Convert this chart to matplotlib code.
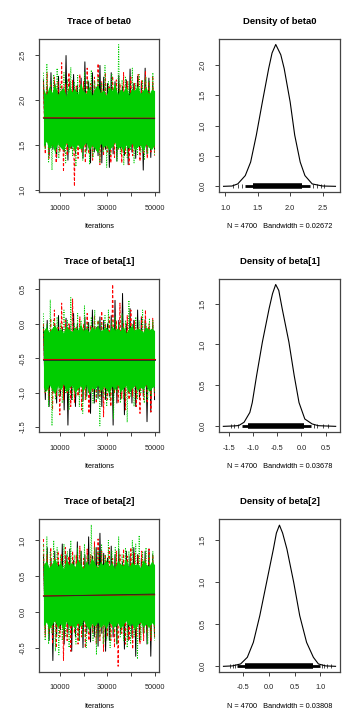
import numpy as np
import matplotlib
matplotlib.use('Agg')
from matplotlib import pyplot as plt

plt.rcParams['font.family'] = ['Liberation Sans', 'DejaVu Sans']

# iterations kept (burn-in 3000, thin 10 -> 4700 per chain)
iter_start = 3010
iter_end = 50000

# ---- beta0 trace: peaks/troughs ----
b0_black_hi = [2.22, 2.15, 2.3, 2.18, 2.26, 2.12, 2.49, 2.2, 2.28, 2.16, 2.24, 2.42, 2.2, 2.3, 2.14, 2.38, 2.25, 2.18, 2.3, 2.2, 2.27, 2.15, 2.22, 2.34, 2.18, 2.26, 2.2, 2.35, 2.24, 2.18]
b0_black_lo = [1.5, 1.38, 1.45, 1.36, 1.48, 1.42, 1.33, 1.46, 1.4, 1.5, 1.35, 1.44, 1.3, 1.42, 1.38, 1.3, 1.45, 1.25, 1.4, 1.32, 1.46, 1.38, 1.28, 1.42, 1.35, 1.44, 1.22, 1.4, 1.36, 1.45]
b0_red_hi = [2.2, 2.3, 2.16, 2.25, 2.2, 2.41, 2.18, 2.3, 2.22, 2.15, 2.28, 2.2, 2.35, 2.18, 2.25, 2.4, 2.2, 2.3, 2.16, 2.26, 2.22, 2.18, 2.3, 2.2, 2.25, 2.18, 2.28, 2.22, 2.32, 2.2, 2.26]
b0_red_lo = [1.4, 1.35, 1.48, 1.3, 1.42, 1.2, 1.38, 1.45, 1.04, 1.35, 1.42, 1.3, 1.4, 1.33, 1.45, 1.28, 1.38, 1.42, 1.3, 1.36, 1.44, 1.3, 1.4, 1.28, 1.38, 1.45, 1.32, 1.4, 1.35, 1.42, 1.38]
b0_green_hi = [2.3, 2.4, 2.2, 2.28, 2.35, 2.18, 2.3, 2.22, 2.36, 2.2, 2.27, 2.15, 2.3, 2.22, 2.33, 2.2, 2.25, 2.18, 2.38, 2.2, 2.28, 2.18, 2.61, 2.22, 2.26, 2.2, 2.35, 2.18, 2.28, 2.22, 2.25, 2.2, 2.3]
b0_green_lo = [1.45, 1.3, 1.22, 1.4, 1.35, 1.48, 1.3, 1.42, 1.38, 1.26, 1.45, 1.33, 1.4, 1.28, 1.36, 1.44, 1.3, 1.42, 1.25, 1.38, 1.46, 1.32, 1.4, 1.28, 1.36, 1.44, 1.3, 1.38, 1.42, 1.33, 1.4, 1.45, 1.38]
# edges of the solid green core
b0_core_hi = [2.12, 2.05, 2.15, 2.08, 2.18, 2.06, 2.1, 2.14, 2.04, 2.16, 2.09, 2.13, 2.06, 2.19, 2.1, 2.07, 2.15, 2.05, 2.12, 2.17, 2.08, 2.11, 2.05, 2.14, 2.1, 2.18, 2.06, 2.12, 2.09, 2.15, 2.05, 2.13, 2.1, 2.16, 2.07, 2.11, 2.14, 2.06, 2.12, 2.1]
b0_core_lo = [1.48, 1.54, 1.45, 1.5, 1.42, 1.52, 1.47, 1.44, 1.53, 1.46, 1.5, 1.43, 1.51, 1.45, 1.49, 1.53, 1.44, 1.5, 1.46, 1.41, 1.52, 1.47, 1.5, 1.44, 1.48, 1.53, 1.45, 1.49, 1.42, 1.5, 1.46, 1.52, 1.44, 1.48, 1.5, 1.43, 1.51, 1.47, 1.45, 1.5]
b0_smooth_black = [1.795, 1.79]
b0_smooth_red = [1.80, 1.795]

# ---- beta[1] trace ----
b1_black_hi = [-0.05, 0.05, -0.1, 0.0, 0.12, -0.05, 0.08, -0.02, 0.15, 0.0, -0.08, 0.1, 0.02, 0.2, -0.05, 0.1, 0.05, 0.0, 0.12, 0.34, 0.05, 0.44, 0.0, 0.22, 0.05, 0.2, 0.1, 0.06, -0.05, 0.02]
b1_black_lo = [-1.1, -1.2, -1.0, -1.15, -1.05, -1.25, -1.47, -1.1, -1.2, -1.0, -1.12, -1.05, -1.3, -1.15, -1.08, -1.2, -1.1, -1.05, -1.47, -1.15, -1.1, -1.32, -1.0, -1.15, -1.2, -1.1, -1.05, -1.42, -1.28, -1.1]
b1_red_hi = [0.0, -0.1, 0.08, 0.2, -0.05, 0.3, 0.05, 0.0, 0.36, -0.05, 0.1, 0.0, 0.15, -0.02, 0.12, 0.05, 0.18, 0.0, 0.1, 0.57, 0.05, 0.3, 0.0, 0.12, 0.2, 0.05, -0.05, 0.1, 0.2, 0.0, 0.08]
b1_red_lo = [-1.0, -1.1, -1.25, -1.05, -1.32, -1.1, -1.0, -1.2, -1.15, -1.05, -1.25, -1.1, -1.3, -1.0, -1.15, -1.05, -1.35, -1.1, -1.2, -1.0, -1.15, -1.08, -1.25, -1.1, -1.05, -1.2, -1.3, -1.1, -1.15, -1.28, -1.05]
b1_green_hi = [0.15, 0.0, 0.35, 0.05, 0.1, 0.0, 0.2, 0.05, 0.38, 0.0, 0.15, 0.05, 0.26, 0.0, 0.1, 0.2, 0.05, 0.0, 0.12, 0.2, 0.05, 0.1, 0.0, 0.15, 0.05, 0.34, 0.0, 0.1, 0.05, 0.2, 0.0, 0.08, 0.05]
b1_green_lo = [-1.0, -1.2, -1.48, -1.1, -1.05, -1.15, -1.0, -1.25, -1.1, -1.05, -1.2, -1.3, -1.1, -1.0, -1.15, -1.1, -1.48, -1.05, -1.2, -1.1, -1.38, -1.0, -1.15, -1.1, -1.43, -1.05, -1.2, -1.1, -1.0, -1.15, -1.1, -1.05, -1.0]
b1_core_hi = [-0.1, -0.04, -0.12, -0.06, -0.02, -0.1, -0.07, -0.13, -0.03, -0.08, -0.11, -0.05, -0.09, 0.0, -0.1, -0.06, -0.12, -0.04, -0.08, -0.02, -0.11, -0.07, -0.05, -0.12, -0.03, -0.09, -0.06, -0.1, -0.04, -0.13, -0.07, -0.02, -0.1, -0.06, -0.08, -0.12, -0.04, -0.09, -0.06, -0.1]
b1_core_lo = [-0.92, -0.98, -0.88, -0.95, -1.02, -0.9, -0.96, -0.87, -0.99, -0.93, -0.89, -1.0, -0.94, -0.9, -0.97, -0.88, -1.03, -0.92, -0.95, -0.89, -0.98, -0.91, -0.94, -1.01, -0.9, -0.96, -0.88, -0.99, -0.93, -0.9, -1.0, -0.94, -0.89, -0.97, -0.92, -0.95, -0.88, -0.98, -0.93, -0.9]
b1_smooth_black = [-0.52, -0.52]
b1_smooth_red = [-0.515, -0.515]

# ---- beta[2] trace ----
b2_black_hi = [0.8, 0.9, 0.75, 0.85, 0.7, 0.95, 0.8, 0.88, 0.72, 0.98, 0.85, 0.8, 1.05, 0.78, 0.9, 1.1, 0.82, 0.75, 0.92, 0.8, 0.88, 0.7, 0.85, 0.78, 0.9, 0.8, 0.75, 0.85, 0.88, 0.8]
b2_black_lo = [-0.3, -0.4, -0.68, -0.35, -0.25, -0.45, -0.3, -0.55, -0.35, -0.4, -0.5, -0.3, -0.42, -0.35, -0.48, -0.3, -0.55, -0.4, -0.35, -0.45, -0.3, -0.52, -0.4, -0.35, -0.62, -0.4, -0.3, -0.45, -0.62, -0.35]
b2_red_hi = [1.02, 0.8, 0.9, 0.75, 0.85, 0.8, 0.9, 0.78, 0.85, 0.8, 0.92, 0.75, 0.88, 0.8, 0.98, 1.02, 0.85, 0.8, 0.9, 0.75, 0.85, 0.8, 0.88, 0.78, 0.9, 0.82, 0.8, 0.85, 0.75, 0.88, 0.8]
b2_red_lo = [-0.35, -0.3, -0.45, -0.5, -0.35, -0.68, -0.4, -0.55, -0.3, -0.45, -0.35, -0.5, -0.4, -0.3, -0.45, -0.4, -0.55, -0.35, -0.4, -0.5, -0.76, -0.3, -0.45, -0.4, -0.52, -0.35, -0.45, -0.4, -0.3, -0.4, -0.35]
b2_green_hi = [0.95, 1.05, 0.85, 1.0, 0.9, 0.8, 0.95, 0.85, 1.0, 0.8, 0.9, 0.85, 0.95, 0.8, 1.22, 0.9, 0.85, 0.95, 0.8, 1.0, 0.85, 0.9, 1.05, 0.8, 0.9, 0.85, 1.0, 0.95, 1.07, 0.85, 0.9, 0.8, 0.85]
b2_green_lo = [-0.4, -0.45, -0.3, -0.55, -0.6, -0.4, -0.35, -0.5, -0.3, -0.45, -0.4, -0.35, -0.5, -0.3, -0.4, -0.6, -0.35, -0.45, -0.4, -0.5, -0.3, -0.45, -0.35, -0.4, -0.5, -0.45, -0.35, -0.66, -0.4, -0.3, -0.45, -0.35, -0.4]
b2_core_hi = [0.66, 0.72, 0.62, 0.68, 0.75, 0.64, 0.7, 0.6, 0.73, 0.66, 0.69, 0.63, 0.74, 0.67, 0.61, 0.71, 0.65, 0.76, 0.68, 0.62, 0.7, 0.66, 0.73, 0.64, 0.69, 0.61, 0.72, 0.67, 0.65, 0.74, 0.63, 0.7, 0.66, 0.68, 0.62, 0.73, 0.67, 0.64, 0.71, 0.66]
b2_core_lo = [-0.2, -0.14, -0.24, -0.17, -0.12, -0.22, -0.16, -0.26, -0.13, -0.2, -0.18, -0.23, -0.15, -0.21, -0.11, -0.19, -0.25, -0.16, -0.2, -0.14, -0.22, -0.17, -0.24, -0.13, -0.19, -0.21, -0.15, -0.23, -0.18, -0.12, -0.2, -0.16, -0.25, -0.18, -0.14, -0.21, -0.17, -0.22, -0.15, -0.19]
b2_smooth_black = [0.22, 0.25]
b2_smooth_red = [0.225, 0.24]

# ---- densities: points ----
b0_dx = [0.97, 1.1, 1.19, 1.306, 1.389, 1.477, 1.57, 1.668, 1.72, 1.777, 1.855, 1.907, 2.0, 2.07, 2.155, 2.228, 2.34, 2.5, 2.7]
b0_dy = [0.0, 0.005, 0.04, 0.177, 0.40, 0.845, 1.39, 1.945, 2.2, 2.34, 2.17, 1.945, 1.39, 0.845, 0.40, 0.177, 0.04, 0.005, 0.0]
b1_dx = [-1.62, -1.4, -1.3, -1.19, -1.07, -1.02, -0.93, -0.81, -0.67, -0.6, -0.534, -0.47, -0.40, -0.26, -0.15, -0.05, 0.07, 0.22, 0.35, 0.71]
b1_dy = [0.0, 0.005, 0.01, 0.05, 0.17, 0.29, 0.62, 1.03, 1.44, 1.62, 1.733, 1.66, 1.44, 1.03, 0.62, 0.29, 0.09, 0.03, 0.008, 0.0]
b2_dx = [-0.87, -0.7, -0.54, -0.41, -0.294, -0.17, -0.039, 0.092, 0.15, 0.209, 0.27, 0.353, 0.484, 0.60, 0.732, 0.863, 0.96, 1.1, 1.29]
b2_dy = [0.0, 0.005, 0.028, 0.107, 0.284, 0.60, 0.995, 1.39, 1.58, 1.674, 1.58, 1.39, 0.995, 0.60, 0.284, 0.107, 0.028, 0.005, 0.0]

# rug: thick centre, thinner tails, sparse outliers
b0_rug = [1.42, 2.18]
b0_rug_tail = [1.3, 2.31]
b0_rug_sparse = [1.12, 1.2, 1.25, 2.36, 2.41, 2.47, 2.52]
b1_rug = [-1.1, 0.05]
b1_rug_tail = [-1.24, 0.2]
b1_rug_sparse = [-1.47, -1.4, -1.32, 0.27, 0.33, 0.44, 0.55]
b2_rug = [-0.45, 0.85]
b2_rug_tail = [-0.6, 0.99]
b2_rug_sparse = [-0.74, -0.68, -0.64, 1.03, 1.07, 1.12, 1.2]

params = ['beta0', 'beta[1]', 'beta[2]']
bandwidths = ['0.02672', '0.03678', '0.03808']
n_samples = 4700

traces = [
    [(b0_black_hi, b0_black_lo), (b0_red_hi, b0_red_lo), (b0_green_hi, b0_green_lo)],
    [(b1_black_hi, b1_black_lo), (b1_red_hi, b1_red_lo), (b1_green_hi, b1_green_lo)],
    [(b2_black_hi, b2_black_lo), (b2_red_hi, b2_red_lo), (b2_green_hi, b2_green_lo)],
]
cores = [(b0_core_lo, b0_core_hi), (b1_core_lo, b1_core_hi), (b2_core_lo, b2_core_hi)]
smooths = [(b0_smooth_black, b0_smooth_red), (b1_smooth_black, b1_smooth_red), (b2_smooth_black, b2_smooth_red)]
dens = [(b0_dx, b0_dy), (b1_dx, b1_dy), (b2_dx, b2_dy)]
rugs = [(b0_rug, b0_rug_tail, b0_rug_sparse), (b1_rug, b1_rug_tail, b1_rug_sparse), (b2_rug, b2_rug_tail, b2_rug_sparse)]

trace_ylim = [(0.977, 2.673), (-1.57, 0.65), (-0.84, 1.30)]
trace_yticks = [[1.0, 1.5, 2.0, 2.5], [-1.5, -1.0, -0.5, 0.0, 0.5], [-0.5, 0.0, 0.5, 1.0]]
dens_xlim = [(0.90, 2.77), (-1.71, 0.80), (-0.956, 1.376)]
dens_ylim = [(-0.094, 2.43), (-0.069, 1.80), (-0.067, 1.747)]
dens_xticks = [[1.0, 1.5, 2.0, 2.5], [-1.5, -1.0, -0.5, 0.0, 0.5], [-0.5, 0.0, 0.5, 1.0]]
dens_yticks = [[0.0, 0.5, 1.0, 1.5, 2.0], [0.0, 0.5, 1.0, 1.5], [0.0, 0.5, 1.0, 1.5]]

chain_cols = ['black', '#FF0000', '#00CD00']
chain_dash = ['-', (0, (3, 2)), (0, (1, 1.5))]
green3 = '#00CD00'

fig = plt.figure(figsize=(3.6, 7.2), dpi=100)
bottoms = [0.7333, 0.4, 0.0667]
h = 0.2125


def style(ax):
    for s in ax.spines.values():
        s.set_color('#444444')
        s.set_linewidth(0.9)
    ax.tick_params(direction='out', length=3, width=0.6, labelsize=5.3, pad=6, colors='#222222')
    for lab in ax.get_yticklabels():
        lab.set_rotation(90)
        lab.set_va('center')


for i, p in enumerate(params):
    # trace panel
    ax = fig.add_axes([39 / 360, bottoms[i], 120 / 360, h])
    for (hi, lo), c, ls in zip(traces[i], chain_cols, chain_dash):
        vals = np.empty(2 * len(hi))
        vals[0::2] = hi
        vals[1::2] = lo
        xs = np.linspace(iter_start, iter_end, len(vals))
        ax.plot(xs, vals, color=c, lw=0.7, ls=ls)
    clo, chi = cores[i]
    cx = np.linspace(iter_start, iter_end, len(clo))
    ax.fill_between(cx, clo, chi, color=green3, lw=0, zorder=3)
    sb, sr = smooths[i]
    ax.plot([iter_start, iter_end], sr, color='#CC0000', lw=0.8, zorder=4)
    ax.plot([iter_start, iter_end], sb, color='#222222', lw=0.6, zorder=4)
    ax.set_xlim(1130, 51880)
    ax.set_ylim(*trace_ylim[i])
    ax.set_xticks([10000, 20000, 30000, 40000, 50000])
    ax.set_xticklabels(['10000', '', '30000', '', '50000'])
    ax.set_yticks(trace_yticks[i])
    ax.set_yticklabels([f'{v:.1f}' for v in trace_yticks[i]])
    ax.set_title('Trace of ' + p, fontsize=6.8, fontweight='bold', pad=11)
    ax.set_xlabel('Iterations', fontsize=5.3, labelpad=8)
    style(ax)

    # density panel
    ax = fig.add_axes([219 / 360, bottoms[i], 121 / 360, h])
    dx, dy = dens[i]
    ax.plot(dx, dy, color='black', lw=0.8)
    rug, tail, sparse = rugs[i]
    ax.hlines(0, tail[0], tail[1], color='black', lw=2.0)
    ax.hlines(0, rug[0], rug[1], color='black', lw=4.0)
    ax.plot(sparse, np.zeros(len(sparse)), '|', color='black', ms=3, mew=0.5)
    ax.set_xlim(*dens_xlim[i])
    ax.set_ylim(*dens_ylim[i])
    ax.set_xticks(dens_xticks[i])
    ax.set_xticklabels([f'{v:.1f}' for v in dens_xticks[i]])
    ax.set_yticks(dens_yticks[i])
    ax.set_yticklabels([f'{v:.1f}' for v in dens_yticks[i]])
    ax.set_title('Density of ' + p, fontsize=6.8, fontweight='bold', pad=11)
    ax.set_xlabel(f'N = {n_samples}   Bandwidth = {bandwidths[i]}', fontsize=5.3, labelpad=8)
    style(ax)

fig.savefig('out.png', dpi=100)
